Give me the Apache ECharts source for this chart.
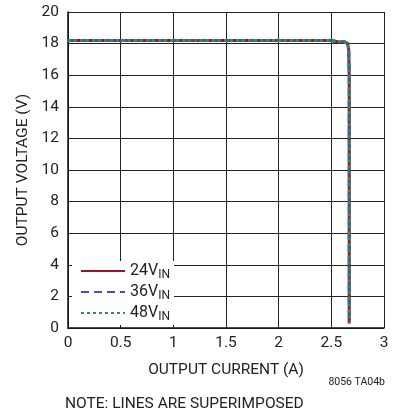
<!DOCTYPE html>
<html><head><meta charset="utf-8">
<script src="https://cdn.jsdelivr.net/npm/echarts@6/dist/echarts.min.js"></script>
<style>html,body{margin:0;padding:0;background:#fff}#c{width:398px;height:414px}</style>
</head><body><div id="c"></div>
<script>
const seriesNames = ['24V', '36V', '48V'];
const current = [0, 0.5, 1.0, 1.5, 2.0, 2.5, 2.56, 2.63, 2.655, 2.665, 2.67, 2.67, 2.67];
const voltage24 = [18.2, 18.2, 18.2, 18.2, 18.2, 18.2, 18.12, 18.1, 18.0, 17.6, 16.0, 8.0, 0.3];
const voltage36 = [18.2, 18.2, 18.2, 18.2, 18.2, 18.2, 18.12, 18.1, 18.0, 17.6, 16.0, 8.0, 0.3];
const voltage48 = [18.2, 18.2, 18.2, 18.2, 18.2, 18.2, 18.12, 18.1, 18.0, 17.6, 16.0, 8.0, 0.3];
const xTicks = [0, 0.5, 1, 1.5, 2, 2.5, 3];
const yTicks = [0, 2, 4, 6, 8, 10, 12, 14, 16, 18, 20];

const FONT = 'Roboto, "Liberation Sans", sans-serif';
const colors = ['#a0102e', '#3b55b4', '#3a8c4c'];
const types = ['solid', [8, 5], [3, 3]];
const vals = [voltage24, voltage36, voltage48];

const chart = echarts.init(document.getElementById('c'));
chart.setOption({
  animation: false,
  grid: { left: 68, top: 12, width: 316, height: 316, containLabel: false },
  xAxis: {
    type: 'value', min: 0, max: 3, interval: 0.5,
    name: 'OUTPUT CURRENT (A)', nameLocation: 'middle', nameGap: 34,
    nameTextStyle: { fontFamily: FONT, fontSize: 15.5, color: '#222' },
    axisLine: { show: true, lineStyle: { color: '#111', width: 1.5 } },
    axisTick: { show: false },
    axisLabel: { fontFamily: FONT, fontSize: 15.5, color: '#222', margin: 7,
      formatter: v => { const t = xTicks.find(x => Math.abs(x - v) < 1e-9); return t === undefined ? '' : String(t); } },
    splitLine: { show: true, lineStyle: { color: '#222', width: 1 } }
  },
  yAxis: {
    type: 'value', min: 0, max: 20, interval: 2,
    name: 'OUTPUT VOLTAGE (V)', nameLocation: 'middle', nameGap: 32, nameRotate: 90,
    nameTextStyle: { fontFamily: FONT, fontSize: 15.5, color: '#222' },
    axisLine: { show: true, lineStyle: { color: '#111', width: 1.5 } },
    axisTick: { show: false },
    axisLabel: { fontFamily: FONT, fontSize: 15.5, color: '#222', margin: 9,
      formatter: v => { const t = yTicks.find(x => Math.abs(x - v) < 1e-9); return t === undefined ? '' : String(t); } },
    splitLine: { show: true, lineStyle: { color: '#222', width: 1 } }
  },
  legend: {
    orient: 'vertical', left: 72, top: 261,
    backgroundColor: '#fff', padding: [2, 4, 2, 8], itemGap: 3,
    itemWidth: 44, itemHeight: 12,
    itemStyle: { opacity: 0, borderWidth: 0 },
    data: seriesNames,
    formatter: n => n + '{s|IN}',
    textStyle: { fontFamily: FONT, fontSize: 16, color: '#222',
      rich: { s: { fontFamily: FONT, fontSize: 12, color: '#222', verticalAlign: 'bottom', padding: [8, 0, 0, 0] } } }
  },
  series: seriesNames.map((n, i) => ({
    name: n, type: 'line', showSymbol: false, symbol: 'none',
    data: current.map((c, j) => [c, vals[i][j]]),
    lineStyle: { color: colors[i], width: 3, type: types[i] },
    itemStyle: { color: colors[i] }
  })),
  graphic: [
    { type: 'text', right: 13, top: 377, style: { text: '8056 TA04b', fontFamily: FONT, fontSize: 10.5, fill: '#222' } },
    { type: 'text', left: 65, top: 396, style: { text: 'NOTE: LINES ARE SUPERIMPOSED', fontFamily: FONT, fontSize: 15.5, fill: '#222' } }
  ]
});
</script></body></html>
